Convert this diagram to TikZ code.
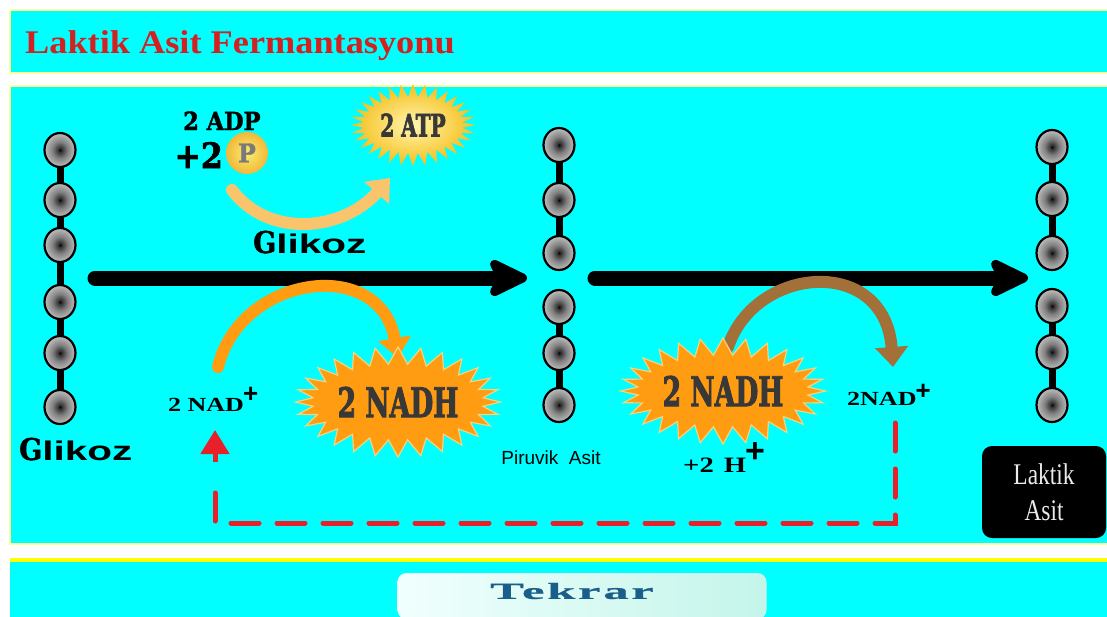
\documentclass[tikz,border=0pt]{standalone}
\usepackage{fontspec}
\setmainfont{Liberation Serif}
\setsansfont{Liberation Sans}
\newfontfamily\stencil[FakeBold=1.6]{DejaVu Serif Condensed}
\newfontfamily\stencilnarrow[FakeStretch=0.72,FakeBold=2]{DejaVu Serif Condensed}
\newfontfamily\widesans[FakeStretch=1.5]{Liberation Sans}
\newfontfamily\wideserif[FakeStretch=1.3]{Liberation Serif}
\newfontfamily\narrowserif[FakeStretch=0.78]{Liberation Serif}
\newfontfamily\buttonfont[FakeStretch=2.2,LetterSpace=12,FakeBold=1]{Liberation Serif}
\newfontfamily\titlefont[FakeStretch=1.1]{Liberation Serif}
\usetikzlibrary{arrows.meta,shapes.geometric,shapes.symbols}

\definecolor{panel}{HTML}{00FFFF}
\definecolor{rim}{HTML}{FFFF99}
\definecolor{rimbright}{HTML}{FFFF00}
\definecolor{titlered}{HTML}{D42020}
\definecolor{paleorange}{HTML}{FAC46C}
\definecolor{nadorange}{HTML}{FF9C12}
\definecolor{starrim}{HTML}{F7D37C}
\definecolor{brownarc}{HTML}{A4703A}
\definecolor{dashred}{HTML}{E8202A}
\definecolor{startext}{HTML}{383838}
\definecolor{atpin}{HTML}{FFF6B0}
\definecolor{atpout}{HTML}{F6BE1A}
\definecolor{pin}{HTML}{F8EE70}
\definecolor{pout}{HTML}{F2B83A}
\definecolor{ptext}{HTML}{7A7A7A}
\definecolor{btnleft}{HTML}{F0FFFD}
\definecolor{btnright}{HTML}{C4F5EA}
\definecolor{btntext}{HTML}{1A5F8A}

% glossy bead: dark core fading to a light grey rim
\pgfdeclareradialshading{bead}{\pgfpoint{0bp}{0bp}}{%
  color(0bp)=(black); color(3bp)=(black!80); color(12bp)=(black!50);
  color(25bp)=(black!25); color(50bp)=(black!25)}

\tikzset{
  panelbox/.style={fill=panel, draw=rim, line width=2.5pt},
  bead/.style={ellipse, minimum width=31pt, minimum height=34pt, inner sep=0pt,
    draw=black, line width=2.2pt, shading=bead},
  link/.style={line width=7pt, black},
  mainarrow/.style={line width=15pt, black, line cap=round,
    -{Stealth[length=48pt,width=46pt,inset=12pt,round]}},
  arcarrow/.style={line width=12pt, line cap=round,
    -{Triangle[length=20pt,width=32pt]}},
  nadstar/.style={starburst, starburst points=28, starburst point height=17pt,
    random starburst=0, fill=nadorange, draw=starrim, line width=1.2pt,
    inner sep=0pt, text=startext,
    font=\stencilnarrow\bfseries\fontsize{41}{41}\selectfont},
  atpstar/.style={starburst, starburst points=32, starburst point height=13pt,
    random starburst=0, shading=radial, inner color=atpin, outer color=atpout,
    inner sep=0pt, text=startext, minimum width=125pt, minimum height=82pt,
    font=\stencilnarrow\bfseries\fontsize{31}{31}\selectfont},
  label/.style={inner sep=0pt, anchor=base west},
  reddash/.style={dashred, line width=5pt, line cap=round,
    dash pattern=on 28pt off 18pt},
  redhead/.style={dashred, line width=5pt, -{Triangle[length=24pt,width=28pt]}},
}

\newcommand{\bigplus}[2]{\raisebox{#1}{\sffamily\bfseries\fontsize{#2}{#2}\selectfont +}}
\newcommand{\glikozword}{{\stencil\bfseries\fontsize{30}{30}\selectfont G}{\widesans\bfseries\fontsize{27}{27}\selectfont likoz}}

\begin{document}
\begin{tikzpicture}[x=1pt,y=-1pt]
\useasboundingbox (0,0) rectangle (1107,616);
\fill[white] (0,0) rectangle (1107,616);

% panels
\draw[panelbox] (10,10) rectangle (1115,73);
\draw[panelbox] (10,86) rectangle (1115,544);
\fill[panel] (10,561) rectangle (1115,620);
\draw[rimbright, line width=4pt] (10,560) -- (1115,560);

\node[label, text=titlered, font=\titlefont\bfseries\fontsize{33}{36}\selectfont]
  (title) at (25,53) {Laktik Asit Fermantasyonu};

% carbon chains
\foreach \i/\y in {1/150,2/200,3/245,4/302,5/353,6/407}
  \coordinate (cL\i) at (60,\y);
\foreach \i/\y in {1/145,2/200,3/253,4/307,5/353,6/405}
  \coordinate (cM\i) at (559,\y);
\foreach \i/\y in {1/147,2/199,3/253,4/306,5/352,6/405}
  \coordinate (cR\i) at (1052,\y);
\draw[link] (cL1) -- (cL6);
\draw[link] (cM1) -- (cM3);
\draw[link] (cM4) -- (cM6);
\draw[link] (cR1) -- (cR3);
\draw[link] (cR4) -- (cR6);
\foreach \i in {1,...,6} {
  \node[bead] (L\i) at (cL\i) {};
  \node[bead] (M\i) at (cM\i) {};
  \node[bead] (R\i) at (cR\i) {};
}

% main reaction arrows
\coordinate (a1s) at (95,278);
\coordinate (a1e) at (527,278);
\coordinate (a2s) at (595,278);
\coordinate (a2e) at (1028,278);
\draw[mainarrow] (a1s) -- (a1e);
\draw[mainarrow] (a2s) -- (a2e);

% side arcs
\coordinate (pA) at (232,190);
\coordinate (pB) at (390,178);
\draw[arcarrow, paleorange] (pA) .. controls (268,238) and (342,232) .. (pB);
\coordinate (oA) at (218,367);
\coordinate (oB) at (398,358);
\draw[arcarrow, nadorange] (oA) .. controls (240,275) and (380,255) .. (oB);
\coordinate (bA) at (728,347);
\coordinate (bB) at (893,367);
\draw[arcarrow, brownarc] (bA) .. controls (755,265) and (885,255) .. (bB);

% ATP side
\node[label, font=\stencil\bfseries\fontsize{25}{25}\selectfont] (adp) at (183,130) {2 ADP};
\node[inner sep=0pt, anchor=base east, font=\stencil\bfseries\fontsize{35}{35}\selectfont]
  (plustwo) at (223,168) {+2};
\node[circle, minimum size=42pt, inner sep=0pt, shading=radial, inner color=pin,
  outer color=pout, text=ptext, font=\stencil\bfseries\fontsize{26}{26}\selectfont]
  (pcirc) at (247,153) {P};
\node[atpstar] (atp) at (413,125) {2 ATP};

\node[label] (glik1) at (253,253) {\glikozword};
\node[label] (glik2) at (19,460) {\glikozword};

% NADH stars
\node[nadstar, minimum width=184pt, minimum height=110pt] (nadh1) at (398,402) {2 NADH};
\node[nadstar, minimum width=186pt, minimum height=106pt] (nadh2) at (723,391) {2 NADH};

\node[label, font=\wideserif\bfseries\fontsize{20}{20}\selectfont] (nadL) at (168,411)
  {2 NAD\kern-1pt\bigplus{9pt}{26}};
\node[label, font=\wideserif\bfseries\fontsize{20}{20}\selectfont] (nadR) at (847,405)
  {2NAD\kern-1pt\bigplus{6pt}{26}};
\node[label, font=\wideserif\bfseries\fontsize{22}{22}\selectfont] (hplus) at (683,472)
  {+2\hspace{10pt}H\kern-1pt\bigplus{10pt}{34}};

\node[inner sep=0pt, anchor=base, font=\sffamily\fontsize{19}{19}\selectfont]
  (piruvik) at (551,464) {Piruvik\ \ Asit};

% lactic acid label
\node[fill=black, rounded corners=10pt, minimum width=124pt, minimum height=92pt,
  inner sep=0pt, align=center, text=white!92!black,
  font=\narrowserif\fontsize{30}{36}\selectfont] (lak) at (1044,492) {Laktik\\Asit};

% NAD+ recycling loop
\coordinate (rTop) at (895,423);
\coordinate (rLow) at (895,523);
\coordinate (lLow) at (215,523);
\coordinate (lMid) at (215,486);
\coordinate (lStem) at (215,462);
\coordinate (lTip) at (215,430);
\draw[reddash] (rTop) -- (rLow) -- (lLow) -- (lMid);
\draw[redhead] (lStem) -- (lTip);

% repeat button
\node[rounded corners=9pt, left color=btnleft, right color=btnright,
  minimum width=369pt, minimum height=46pt, inner sep=0pt] (btn) at (582,596) {};
\node[inner sep=0pt, text=btntext, font=\buttonfont\bfseries\fontsize{23}{23}\selectfont]
  (tekrar) at (572,591) {Tekrar};
\end{tikzpicture}
\end{document}
